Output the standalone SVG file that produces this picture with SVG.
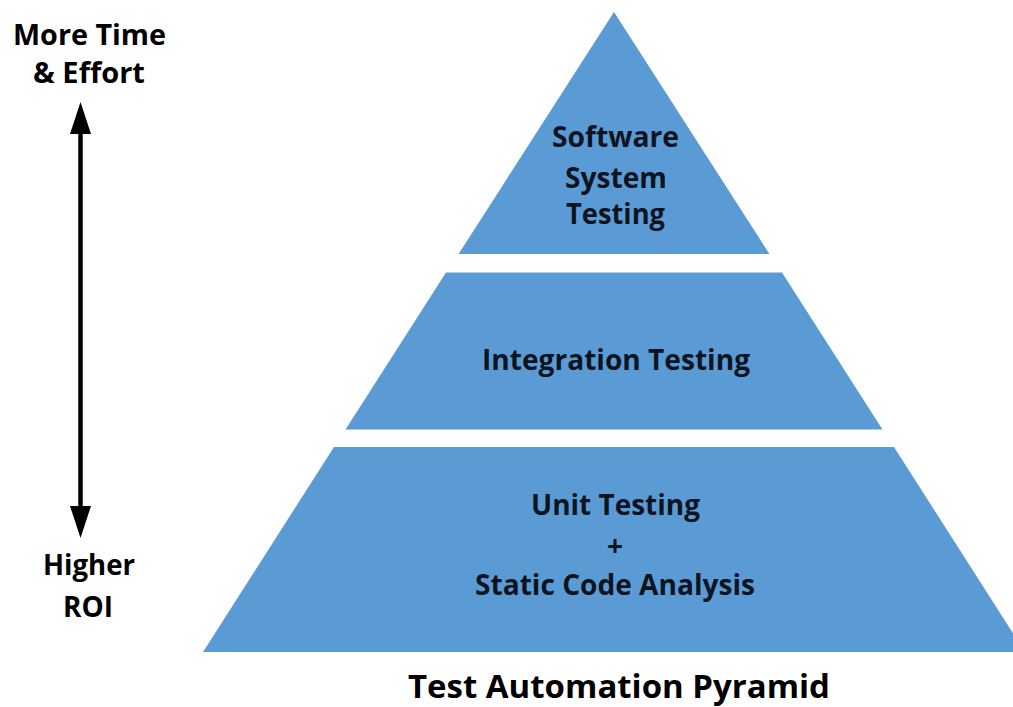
<svg xmlns="http://www.w3.org/2000/svg" width="1013" height="707" viewBox="0 0 1013 707">
<style>
.tier{fill:#5B9BD5;}
.lbl{font-family:"Open Sans","Noto Sans","Liberation Sans",sans-serif;font-weight:700;font-size:28px;fill:#0d1420;text-anchor:middle;}
.side{font-family:"Open Sans","Noto Sans","Liberation Sans",sans-serif;font-weight:700;font-size:28px;fill:#000;text-anchor:middle;}
.title{font-family:"Open Sans","Noto Sans","Liberation Sans",sans-serif;font-weight:700;font-size:33px;fill:#000;text-anchor:middle;}
</style>
<defs>
<marker id="head" viewBox="0 0 32 21" markerWidth="32" markerHeight="21" markerUnits="userSpaceOnUse" refX="14" refY="10.5" orient="auto-start-reverse">
<path d="M0,0 L32,10.5 L0,21 z" fill="#000"/>
</marker>
</defs>
<rect width="1013" height="707" fill="#fff"/>
<g id="tier-system">
<polygon class="tier" points="614,12 769.4,254 458.6,254"/>
<text class="lbl" x="615.5" y="147" textLength="127" lengthAdjust="spacingAndGlyphs">Software</text>
<text class="lbl" x="616" y="188" textLength="102" lengthAdjust="spacingAndGlyphs">System</text>
<text class="lbl" x="615.5" y="224" textLength="99" lengthAdjust="spacingAndGlyphs">Testing</text>
</g>
<g id="tier-integration">
<polygon class="tier" points="446,272.5 782,272.5 882.5,429.5 345.5,429.5"/>
<text class="lbl" x="616" y="370" textLength="268" lengthAdjust="spacingAndGlyphs">Integration Testing</text>
</g>
<g id="tier-unit">
<polygon class="tier" points="334,447 894,447 1025,652 203,652"/>
<text class="lbl" x="615.5" y="515" textLength="169" lengthAdjust="spacingAndGlyphs">Unit Testing</text>
<text class="lbl" x="615" y="556">+</text>
<text class="lbl" x="615" y="595" textLength="280" lengthAdjust="spacingAndGlyphs">Static Code Analysis</text>
</g>
<g id="label-top">
<text class="side" x="89.5" y="45" textLength="153" lengthAdjust="spacingAndGlyphs">More Time</text>
<text class="side" x="89" y="83" textLength="112" lengthAdjust="spacingAndGlyphs">&amp; Effort</text>
</g>
<g id="label-bottom">
<text class="side" x="89" y="575" textLength="92" lengthAdjust="spacingAndGlyphs">Higher</text>
<text class="side" x="88" y="617" textLength="50" lengthAdjust="spacingAndGlyphs">ROI</text>
</g>
<g id="connectors">
<line x1="80.5" y1="120" x2="80.5" y2="520" stroke="#000" stroke-width="4.5" marker-start="url(#head)" marker-end="url(#head)"/>
</g>
<g id="caption">
<text class="title" x="619" y="698" textLength="422" lengthAdjust="spacingAndGlyphs">Test Automation Pyramid</text>
</g>
</svg>
